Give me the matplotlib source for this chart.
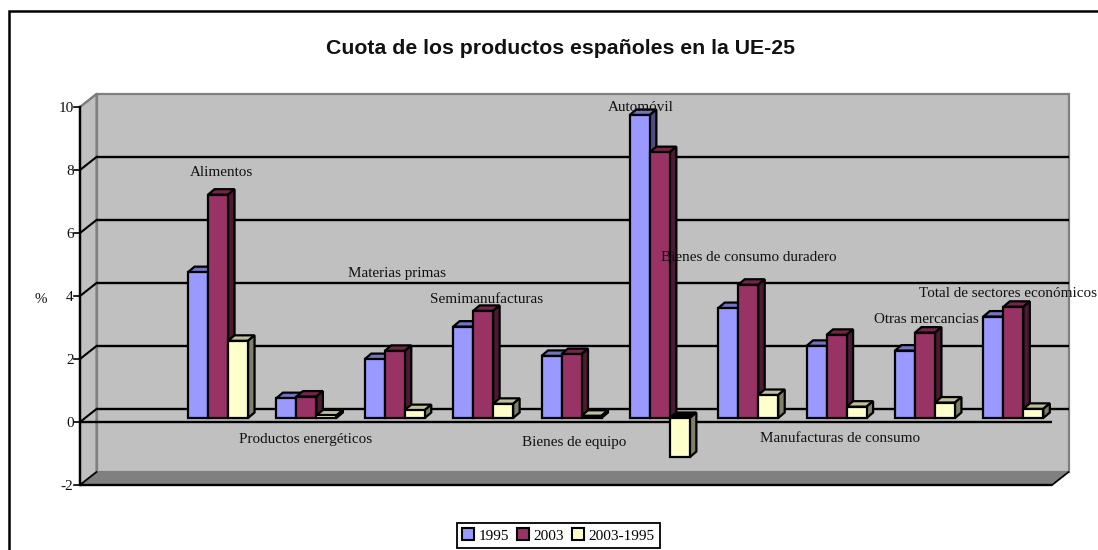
import matplotlib
matplotlib.use("Agg")
import matplotlib.pyplot as plt
from matplotlib.patches import Polygon, Patch
from matplotlib.lines import Line2D

plt.rcParams['font.family'] = ['Liberation Serif', 'DejaVu Serif']

series_names = ['1995', '2003', '2003-1995']
v1995 = [4.63, 0.63, 1.87, 2.90, 1.97, 9.62, 3.49, 2.29, 2.14, 3.22]
v2003 = [7.09, 0.68, 2.13, 3.40, 2.03, 8.44, 4.23, 2.64, 2.71, 3.53]
vdiff = [2.45, 0.08, 0.25, 0.45, 0.07, -1.24, 0.73, 0.36, 0.49, 0.29]
labels = ['Alimentos', 'Productos energéticos', 'Materias primas', 'Semimanufacturas',
          'Bienes de equipo', 'Automóvil', 'Bienes de consumo duradero',
          'Manufacturas de consumo', 'Otras mercancias', 'Total de sectores económicos']
label_px = [(221, 172.5), (306, 439), (397, 273.5), (487, 299.5), (574, 442.5), (641, 107.5),
            (749, 257.5), (840, 438.5), (926, 319.5), (1008, 293.5)]
yticks = [-2, 0, 2, 4, 6, 8, 10]

W, H = 1098, 550
fig = plt.figure(figsize=(W / 100, H / 100), dpi=100, facecolor='white')

# Front plane of the pseudo-3D box
L, R, T, B = 80, 1052, 107, 485
ax = fig.add_axes([L / W, 1 - B / H, (R - L) / W, (B - T) / H])
ax.set_xlim(0, 11)
ax.set_ylim(-2, 10)
ax.axis('off')
ux = (R - L) / 11   # px per category
uy = (B - T) / 12   # px per y unit
px = lambda p: p / ux
py = lambda p: p / uy

# Depth of the box
Dx, Dy = px(16.5), py(13)
ymin, ymax, xmax = -2, 10, 11
wall = '#C0C0C0'; floor = '#808080'; edge = '#808080'
ax.add_patch(Polygon([(Dx, ymin + Dy), (xmax + Dx, ymin + Dy), (xmax + Dx, ymax + Dy), (Dx, ymax + Dy)],
                     fc=wall, ec=edge, lw=1.6, clip_on=False, zorder=1))
ax.add_patch(Polygon([(0, ymin), (Dx, ymin + Dy), (Dx, ymax + Dy), (0, ymax)],
                     fc=wall, ec=edge, lw=1.6, clip_on=False, zorder=1))
ax.add_patch(Polygon([(0, ymin), (xmax, ymin), (xmax + Dx, ymin + Dy), (Dx, ymin + Dy)],
                     fc=floor, ec=edge, lw=1.2, clip_on=False, zorder=1))
# Gridlines on the back wall and their slanted links on the side wall
for t in yticks[1:-1]:
    ax.plot([Dx, xmax + Dx], [t + Dy, t + Dy], color='black', lw=1.7, clip_on=False, zorder=2,
            solid_capstyle='butt')
    ax.plot([0, Dx], [t, t + Dy], color='black', lw=1.5, clip_on=False, zorder=2)
ax.plot([0, Dx], [10, 10 + Dy], color='#808080', lw=1.5, clip_on=False, zorder=2)
# Front axes lines
ax.plot([0, 0], [ymin, ymax], color='black', lw=1.7, clip_on=False, zorder=3)
ax.plot([0, xmax], [0, 0], color='black', lw=1.7, clip_on=False, zorder=3, solid_capstyle='butt')
ax.plot([0, xmax], [ymin, ymin], color='black', lw=1.7, clip_on=False, zorder=3, solid_capstyle='butt')
for t in yticks:
    ax.plot([-px(6), 0], [t, t], color='black', lw=1.2, clip_on=False, zorder=3)
    ax.text(-px(6.5), t - py(1.5), str(t), ha='right', va='center', fontsize=11, color='#111111', zorder=5)
ax.plot([xmax, xmax + Dx], [ymin, ymin + Dy], color='black', lw=1.2, clip_on=False, zorder=3)
ax.plot([0, Dx], [ymin, ymin + Dy], color='black', lw=1.2, clip_on=False, zorder=3)

# Bars
colors = ['#9999FF', '#993366', '#FFFFCC']
tops = ['#7373BF', '#732649', '#BFBF99']
sides = ['#4D4D80', '#4D1933', '#808066']
bw = px(20)
bx0 = 1.5 + px(5.5 - 30)
base = py(4)          # the bars stand a little behind the front plane
bar_dx, bar_dy = px(6.5), py(5.5)
z = 10
for g in range(10):
    for s, vals in enumerate([v1995, v2003, vdiff]):
        v = vals[g]
        x0 = bx0 + g + s * bw
        x1 = x0 + bw
        y0 = base
        y1 = y0 + v
        up = max(y0, y1)
        lo = min(y0, y1)
        top_c = tops[s] if v >= 0 else 'black'
        kw = dict(ec='black', lw=1.6, clip_on=False, joinstyle='miter')
        ax.add_patch(Polygon([(x0, up), (x1, up), (x1 + bar_dx, up + bar_dy), (x0 + bar_dx, up + bar_dy)],
                             fc=top_c, zorder=z, **kw))
        ax.add_patch(Polygon([(x1, lo), (x1 + bar_dx, lo + bar_dy), (x1 + bar_dx, up + bar_dy), (x1, up)],
                             fc=sides[s], zorder=z, **kw))
        ax.bar(x0, up - lo, width=bw, bottom=lo, align='edge', color=colors[s], zorder=z,
               edgecolor='black', linewidth=1.6, clip_on=False)
        z += 1

# Data labels, placed by pixel position like hand-moved labels
for lab, (x, y) in zip(labels, label_px):
    fig.text(x / W, 1 - y / H, lab, ha='center', va='center', fontsize=10.9, color='#111111', zorder=100)

fig.text(40.5 / W, 1 - 299.5 / H, '%', ha='center', va='center', fontsize=10.9, color='#111111')
fig.text(560.5 / W, 1 - 48 / H, 'Cuota de los productos españoles en la UE-25', ha='center', va='center',
         fontsize=15.3, fontweight='bold', family=['Liberation Sans', 'DejaVu Sans'], color='#111111')

# Outer chart border: only the left and top edges fall inside the picture
fig.add_artist(Line2D([8.5 / W, 8.5 / W, 1], [0, 1 - 11 / H, 1 - 11 / H], transform=fig.transFigure,
                      color='black', lw=1.8, solid_joinstyle='miter'))

handles = [Patch(fc=c, ec='black', lw=1.5) for c in colors]
leg = fig.legend(handles, series_names, ncol=3, loc='center', bbox_to_anchor=(558.5 / W, 1 - 535.5 / H),
                 fontsize=11, frameon=True, fancybox=False, edgecolor='black', framealpha=1,
                 handlelength=0.8, handleheight=0.8, handletextpad=0.3, columnspacing=0.5,
                 borderpad=0.35, borderaxespad=0)
leg.get_frame().set_linewidth(1.3)

fig.savefig('out.png', dpi=100)
